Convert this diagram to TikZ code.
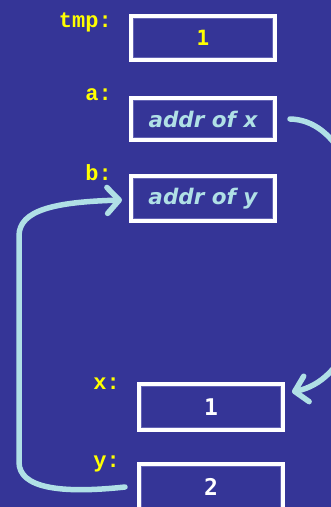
\documentclass[tikz,border=0pt]{standalone}
\usepackage{fontspec}
\usetikzlibrary{arrows.meta}
\newfontfamily\labelfont{Liberation Mono}
\newfontfamily\digitfont{DejaVu Sans Mono}
\newfontfamily\addrfont{DejaVu Sans}
\definecolor{bgblue}{RGB}{53,53,151}
\definecolor{innerline}{RGB}{100,100,180}
\definecolor{ptrblue}{RGB}{176,224,230}
\definecolor{labyellow}{RGB}{255,255,0}
\tikzset{
  cell/.style={draw=white, line width=4pt, minimum width=144pt, minimum height=44pt,
    inner sep=0pt, outer sep=0pt},
  varlabel/.style={anchor=base east, text=labyellow, font=\labelfont\bfseries\fontsize{22}{22}\selectfont, inner sep=0pt},
  valtext/.style={font=\digitfont\bfseries\fontsize{21}{21}\selectfont},
  bigval/.style={font=\digitfont\bfseries\fontsize{23}{23}\selectfont},
  addrtext/.style={text=ptrblue, font=\addrfont\bfseries\itshape\fontsize{21.5}{21.5}\selectfont},
  pointer/.style={draw=ptrblue, line width=5.5pt, line cap=round, line join=round,
    -{Straight Barb[length=12pt, width=26pt, line cap=round, line join=round]}},
}
\begin{document}
\begin{tikzpicture}[x=1pt, y=-1pt]
  \fill[bgblue] (0,0) rectangle (331,507);
  \useasboundingbox (0,0) rectangle (331,507);
  \begin{scope}
  \clip (0,0) rectangle (331,507);

  % memory cells
  \node[cell, valtext, text=labyellow] (tmp) at (203,38) {1};
  \node[cell, addrtext, minimum height=42pt] (a) at (203,119) {addr of x};
  \node[cell, addrtext, minimum height=45pt] (b) at (203,198.5) {addr of y};
  \node[cell, bigval, text=white, minimum height=46pt] (x) at (211,407) {1};
  \node[cell, bigval, text=white, minimum height=46pt] (y) at (211,487) {2};

  % thin inner outlines
  \foreach \n in {tmp,a,b,x,y}
    \draw[innerline, line width=0.8pt] ([shift={(2.4pt,2.4pt)}]\n.south west) rectangle ([shift={(-2.4pt,-2.4pt)}]\n.north east);

  % variable names
  \node[varlabel] (ltmp) at (112,27) {tmp:};
  \node[varlabel] (la) at (112,100) {a:};
  \node[varlabel] (lb) at (112,180) {b:};
  \node[varlabel] (lx) at (120,389) {x:};
  \node[varlabel] (ly) at (120,467) {y:};

  % pointers
  \draw[pointer] ([xshift=15pt]a.east) .. controls (385,121) and (395,370) .. ([xshift=9pt, yshift=15pt]x.east);
  \draw[pointer] ([xshift=-14pt]y.west) .. controls (60,494) and (19,488) .. (19,462)
     -- (19,236) .. controls (19,210) and (55,202) .. ([xshift=-9pt, yshift=-1.5pt]b.west);
  \end{scope}
\end{tikzpicture}
\end{document}
